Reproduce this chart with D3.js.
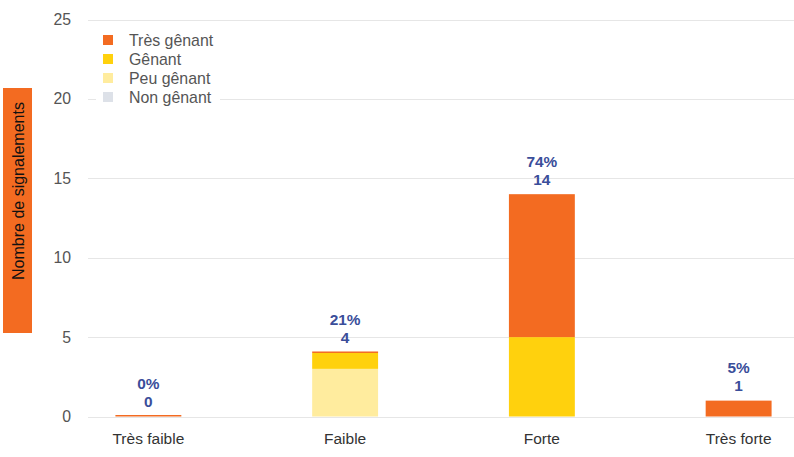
<!DOCTYPE html>
<html><head><meta charset="utf-8">
<script src="https://cdn.jsdelivr.net/npm/d3@7"></script>
<style>body{margin:0;background:#fff}svg{display:block;font-family:"Liberation Sans",Arial,sans-serif}</style>
</head><body><svg id="c" width="794" height="457"></svg>
<script>
const categories = ["Très faible", "Faible", "Forte", "Très forte"];
const seriesNames = ["Non gênant", "Peu gênant", "Gênant", "Très gênant"];
const nonGenant = [0, 0, 0, 0];
const peuGenant = [0, 3, 0, 0];
const genant = [0, 1, 5, 0];
const tresGenant = [0, 0, 9, 1];
const percentLabels = ["0%", "21%", "74%", "5%"];
const yTicks = [0, 5, 10, 15, 20, 25];
const legendOrder = ["Très gênant", "Gênant", "Peu gênant", "Non gênant"];
const colors = {"Très gênant":"#F36B21","Gênant":"#FFD10D","Peu gênant":"#FFEC9E","Non gênant":"#DDE1E8"};

const svg = d3.select("#c");
const y = d3.scaleLinear().domain([0,25]).range([416.5, 19.5]);
const x = d3.scaleBand().domain(categories).range([50,837]).paddingInner(0.665).paddingOuter(0.3325);

// grid
svg.append("g").selectAll("line").data(yTicks).join("line")
  .attr("x1",88).attr("x2",794).attr("y1",d=>Math.round(y(d))+0.5).attr("y2",d=>Math.round(y(d))+0.5)
  .attr("stroke","#E6E6E6").attr("stroke-width",1);
svg.append("g").selectAll("text").data(yTicks).join("text")
  .attr("x",71).attr("y",d=>y(d)).attr("dy","0.35em").attr("text-anchor","end")
  .attr("font-size",15.8).attr("fill","#555").text(d=>d);

// stacks
const seriesData = {"Non gênant":nonGenant,"Peu gênant":peuGenant,"Gênant":genant,"Très gênant":tresGenant};
const rows = categories.map((c,i)=>{const o={cat:c}; seriesNames.forEach(s=>o[s]=seriesData[s][i]); return o;});
const stack = d3.stack().keys(seriesNames)(rows);
const g = svg.append("g");
stack.forEach(layer=>{
  g.selectAll(null).data(layer).join("rect")
    .attr("x",d=>x(d.data.cat)).attr("width",x.bandwidth())
    .attr("y",d=>{const h=y(d[0])-y(d[1]); return layer.key==="Très gênant"&&h<1.5? y(d[1])-1.5 : y(d[1]);})
    .attr("height",d=>{const h=y(d[0])-y(d[1]); return layer.key==="Très gênant"&&h<1.5?1.5:h;})
    .attr("fill",colors[layer.key]);
});
const totals = categories.map((c,i)=>seriesNames.reduce((a,s)=>a+seriesData[s][i],0));
const lab = svg.append("g").attr("font-weight","bold").attr("font-size",15.4).attr("fill","#3A4E9A").attr("text-anchor","middle");
categories.forEach((c,i)=>{
  const cx = x(c)+x.bandwidth()/2, top=y(totals[i]);
  lab.append("text").attr("x",cx).attr("y",top-15).attr("dy","0.35em").text(totals[i]);
  lab.append("text").attr("x",cx).attr("y",top-33).attr("dy","0.35em").text(percentLabels[i]);
});
// x labels
svg.append("g").selectAll("text").data(categories).join("text")
  .attr("x",d=>x(d)+x.bandwidth()/2).attr("y",444).attr("dy","0.0em").attr("text-anchor","middle")
  .attr("font-size",15.5).attr("fill","#333").text(d=>d);

// y title
svg.append("rect").attr("x",3).attr("y",88).attr("width",29).attr("height",245).attr("fill","#F36B21");
svg.append("text").attr("transform","translate(18,191) rotate(-90)").attr("text-anchor","middle").attr("dy","0.35em")
  .attr("font-size",16).attr("fill","#111").text("Nombre de signalements");

// legend
const lg = svg.append("g");
lg.append("rect").attr("x",96).attr("y",28).attr("width",124).attr("height",80).attr("fill","#fff");
legendOrder.forEach((s,i)=>{
  const yy = 40 + i*19;
  lg.append("rect").attr("x",103).attr("y",yy-5).attr("width",10).attr("height",10).attr("fill",colors[s]);
  lg.append("text").attr("x",129).attr("y",yy).attr("dy","0.35em").attr("font-size",15.9).attr("fill","#555").text(s);
});
</script></body></html>
